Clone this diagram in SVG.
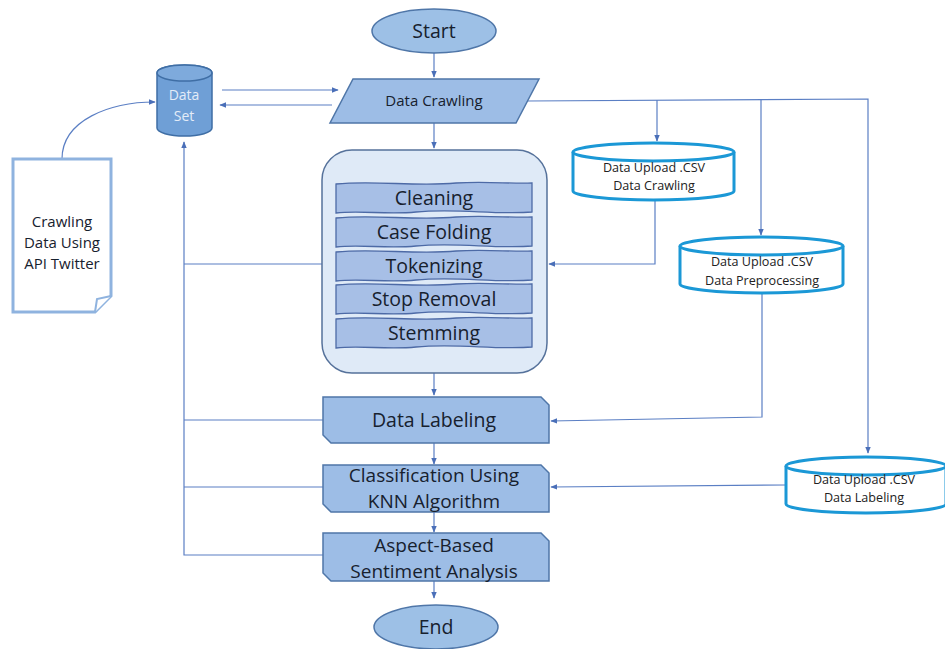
<svg xmlns="http://www.w3.org/2000/svg" xmlns:xlink="http://www.w3.org/1999/xlink" width="945" height="649" viewBox="0 0 945 649">
  <style>
    .lbl { font-family: "Open Sans", "Liberation Sans", sans-serif; fill: #17212e; text-anchor: middle; }
    .term { fill: #9dc0e6; stroke: #4f76a8; stroke-width: 1.5; }
    .proc { fill: #9dbde6; stroke: #4f76a8; stroke-width: 1.5; }
    .tape { fill: #a7bfe6; stroke: #4d6aa6; stroke-width: 1.3; }
    .store { fill: #ffffff; stroke: #1b98d6; stroke-width: 3; }
    .conn { fill: none; stroke: #5b7fc4; stroke-width: 1.2; }
    .small { font-family: "Open Sans", "Liberation Sans", sans-serif; font-size: 12.6px; fill: #222; text-anchor: middle; }
  </style>
  <defs>
    <marker id="arr" viewBox="0 0 10 10" refX="9" refY="5" markerWidth="7" markerHeight="7" orient="auto" markerUnits="userSpaceOnUse">
      <path d="M0,1 L10,5 L0,9 Z" fill="#4a6fb8"/>
    </marker>
    <path id="tapeShape" d="M0,2 C40,-2 80,5 120,1 C150,-1 175,2 196,1 L196,30 C160,33 120,26 80,30 C50,33 25,28 0,31 Z"/>
  </defs>
  <rect width="945" height="649" fill="#ffffff"/>

  <!-- connectors -->
  <g id="connectors">
    <path class="conn" d="M434,53 V77" marker-end="url(#arr)"/>
    <path class="conn" d="M222,90 H338" marker-end="url(#arr)"/>
    <path class="conn" d="M332,105 H220" marker-end="url(#arr)"/>
    <path class="conn" d="M62,159 C62,120 110,102 155,102" marker-end="url(#arr)"/>
    <path class="conn" d="M434,123 V148" marker-end="url(#arr)"/>
    <path class="conn" d="M434,373 V395" marker-end="url(#arr)"/>
    <path class="conn" d="M434,443 V464" marker-end="url(#arr)"/>
    <path class="conn" d="M434,512 V532" marker-end="url(#arr)"/>
    <path class="conn" d="M434,581 V598" marker-end="url(#arr)"/>
    <!-- feedback to Data Set -->
    <path class="conn" d="M323,555 H184 V142" marker-end="url(#arr)"/>
    <path class="conn" d="M322,264 H184"/>
    <path class="conn" d="M323,420 H184"/>
    <path class="conn" d="M323,487 H184"/>
    <!-- uploads -->
    <path class="conn" d="M527,101 L868,99 V453" marker-end="url(#arr)"/>
    <path class="conn" d="M657,100 V141" marker-end="url(#arr)"/>
    <path class="conn" d="M761,100 V235" marker-end="url(#arr)"/>
    <path class="conn" d="M655,201 V264 H549" marker-end="url(#arr)"/>
    <path class="conn" d="M762,294 V417 L551,421" marker-end="url(#arr)"/>
    <path class="conn" d="M786,485 L551,487" marker-end="url(#arr)"/>
  </g>

  <g id="start">
    <ellipse class="term" cx="434" cy="31" rx="62" ry="22"/>
    <text class="lbl" x="434" y="38" font-size="19.5">Start</text>
  </g>

  <g id="data-crawling">
    <polygon class="proc" points="353,79 539,79 516,123 330,123" fill="#adc8ea"/>
    <text class="lbl" x="434" y="106" font-size="15">Data Crawling</text>
  </g>

  <g id="data-set">
    <path d="M157,73 V128 A27.5,8 0 0 0 212,128 V73 A27.5,8 0 0 0 157,73 Z" fill="#6f9fd6" stroke="#3f6ea5" stroke-width="1.5"/>
    <ellipse cx="184.5" cy="73" rx="27.5" ry="8" fill="#7eaadc" stroke="#3f6ea5" stroke-width="1.5"/>
    <text class="lbl" x="184" y="100" font-size="14" style="fill:#e3ecf8">Data</text>
    <text class="lbl" x="184" y="121" font-size="14" style="fill:#e3ecf8">Set</text>
  </g>

  <g id="twitter-doc">
    <path d="M13,159 H111 V296 L95,312 H13 Z" fill="#ffffff" stroke="#8fb3df" stroke-width="3"/>
    <path d="M95,312 L97,299 L111,296" fill="#ffffff" stroke="#8fb3df" stroke-width="2"/>
    <text class="lbl" x="62" y="227" font-size="15">Crawling</text>
    <text class="lbl" x="62" y="248" font-size="15">Data Using</text>
    <text class="lbl" x="62" y="269" font-size="15">API Twitter</text>
  </g>

  <g id="preprocessing">
    <rect x="322" y="150" width="225" height="223" rx="30" fill="#dfeaf7" stroke="#56729b" stroke-width="1.5"/>
    <g id="cleaning">
      <use xlink:href="#tapeShape" class="tape" transform="translate(336,182)"/>
      <text class="lbl" x="434" y="205" font-size="19.5">Cleaning</text>
    </g>
    <g id="case-folding">
      <use xlink:href="#tapeShape" class="tape" transform="translate(336,216)"/>
      <text class="lbl" x="434" y="239" font-size="19.5">Case Folding</text>
    </g>
    <g id="tokenizing">
      <use xlink:href="#tapeShape" class="tape" transform="translate(336,250)"/>
      <text class="lbl" x="434" y="273" font-size="19.5">Tokenizing</text>
    </g>
    <g id="stop-removal">
      <use xlink:href="#tapeShape" class="tape" transform="translate(336,283)"/>
      <text class="lbl" x="434" y="306" font-size="19.5">Stop Removal</text>
    </g>
    <g id="stemming">
      <use xlink:href="#tapeShape" class="tape" transform="translate(336,317)"/>
      <text class="lbl" x="434" y="340" font-size="19.5">Stemming</text>
    </g>
  </g>

  <g id="data-labeling">
    <path class="proc" d="M323,397 H541 L549,405 V443 H331 L323,435 Z"/>
    <text class="lbl" x="434" y="427" font-size="19.5">Data Labeling</text>
  </g>

  <g id="classification">
    <path class="proc" d="M323,465 H541 L549,473 V512 H331 L323,504 Z"/>
    <text class="lbl" x="434" y="481.5" font-size="19">Classification Using</text>
    <text class="lbl" x="434" y="507.5" font-size="19">KNN Algorithm</text>
  </g>

  <g id="aspect">
    <path class="proc" d="M323,533 H541 L549,541 V581 H331 L323,573 Z"/>
    <text class="lbl" x="434" y="552" font-size="19">Aspect-Based</text>
    <text class="lbl" x="434" y="578" font-size="19">Sentiment Analysis</text>
  </g>

  <g id="end">
    <ellipse class="term" cx="436" cy="627" rx="62" ry="22"/>
    <text class="lbl" x="436" y="634" font-size="19.5">End</text>
  </g>

  <g id="upload-crawling">
    <path class="store" d="M573,152 V191 A80.5,9 0 0 0 734,191 V152"/>
    <ellipse class="store" cx="653.5" cy="152" rx="80.5" ry="9"/>
    <text class="small" x="654" y="172">Data Upload .CSV</text>
    <text class="small" x="654" y="190">Data Crawling</text>
  </g>

  <g id="upload-preprocessing">
    <path class="store" d="M680,246 V284 A81.5,9 0 0 0 843,284 V246"/>
    <ellipse class="store" cx="761.5" cy="246" rx="81.5" ry="9"/>
    <text class="small" x="762" y="266">Data Upload .CSV</text>
    <text class="small" x="762" y="285">Data Preprocessing</text>
  </g>

  <g id="upload-labeling">
    <path class="store" d="M786,466 V504 A80,9 0 0 0 946,504 V466"/>
    <ellipse class="store" cx="866" cy="466" rx="80" ry="9"/>
    <text class="small" x="864" y="484">Data Upload .CSV</text>
    <text class="small" x="864" y="502">Data Labeling</text>
  </g>
</svg>
